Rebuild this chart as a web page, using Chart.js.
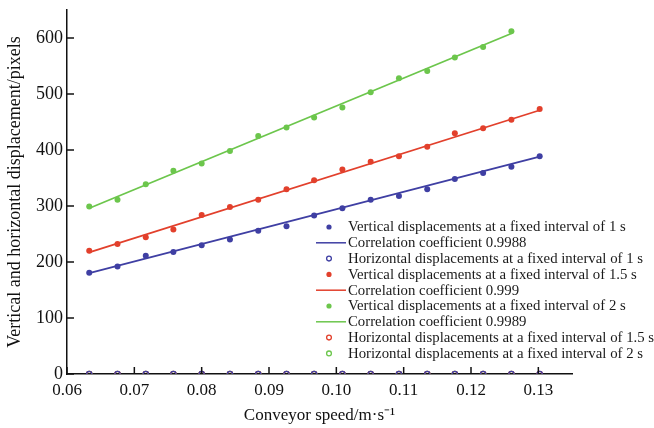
<!DOCTYPE html>
<html><head><meta charset="utf-8">
<script src="https://cdn.jsdelivr.net/npm/chart.js@4/dist/chart.umd.min.js"></script>
<style>html,body{margin:0;padding:0;background:#fff;}#wrap{position:relative;width:654px;height:428px;}</style>
</head><body><div id="wrap"><canvas id="c" width="654" height="428"></canvas></div>
<script>
// ---- data ----
const speeds  = [0.0633,0.0675,0.0717,0.0758,0.0800,0.0842,0.0884,0.0926,0.0967,0.1009,0.1051,0.1093,0.1135,0.1176,0.1218,0.1260,0.1302];
const speeds2 = [0.0633,0.0675,0.0717,0.0758,0.0800,0.0842,0.0884,0.0926,0.0967,0.1009,0.1051,0.1093,0.1135,0.1176,0.1218,0.1260];
const vert1  = [181,192,211,218,230,240,256,264,283,296,311,318,330,348,359,370,389];
const vert15 = [220,232,244,258,284,298,311,330,346,365,379,389,406,430,439,454,473];
const vert2  = [299,311,339,363,376,398,425,440,458,476,503,528,541,565,584,612];
const horiz1  = [0,0,0,0,0,0,0,0,0,0,0,0,0,0,0,0,0];
const horiz15 = [0,0,0,0,0,0,0,0,0,0,0,0,0,0,0,0,0];
const horiz2  = [0,0,0,0,0,0,0,0,0,0,0,0,0,0,0,0];
const fitX1 = [0.0633,0.1302], fit1  = [180,388];
const fitX15 = [0.0633,0.1302], fit15 = [217,471];
const fitX2 = [0.0633,0.1260], fit2  = [296,608];
const xTickVals = [0.06,0.07,0.08,0.09,0.10,0.11,0.12,0.13,0.135];
const yTickVals = [0,100,200,300,400,500,600,650];
const labels = [
  'Vertical displacements at a fixed interval of 1 s',
  'Correlation coefficient 0.9988',
  'Horizontal displacements at a fixed interval of 1 s',
  'Vertical displacements at a fixed interval of 1.5 s',
  'Correlation coefficient 0.999',
  'Vertical displacements at a fixed interval of 2 s',
  'Correlation coefficient 0.9989',
  'Horizontal displacements at a fixed interval of 1.5 s',
  'Horizontal displacements at a fixed interval of 2 s'
];
const xTitle = 'Conveyor speed/m\u00B7s\u207B\u00B9';
const yTitle = 'Vertical and horizontal displacement/pixels';

const BLUE = '#3f3fa3', RED = '#e2402c', GREEN = '#6cc64c';
const pts = (xs, ys) => ys.map((v, i) => ({x: xs[i], y: v}));
const FONT = "'Liberation Serif', 'Times New Roman', serif";

function dot(label, xs, ys, c){ return {label, data: pts(xs, ys), kind:'dot', showLine:false, pointRadius:3, pointHoverRadius:3, backgroundColor:c, borderColor:c, pointBorderWidth:0}; }
function ring(label, xs, ys, c){ return {label, data: pts(xs, ys), kind:'ring', showLine:false, pointRadius:2.6, backgroundColor:'rgba(0,0,0,0)', borderColor:c, pointBorderWidth:1.3}; }
function line(label, xs, ys, c){ return {label, data: pts(xs, ys), kind:'line', showLine:true, pointRadius:0, borderColor:c, backgroundColor:c, borderWidth:1.8, fill:false}; }

const datasets = [
  dot(labels[0], speeds, vert1, BLUE),
  line(labels[1], fitX1, fit1, BLUE),
  ring(labels[2], speeds, horiz1, BLUE),
  dot(labels[3], speeds, vert15, RED),
  line(labels[4], fitX15, fit15, RED),
  dot(labels[5], speeds2, vert2, GREEN),
  line(labels[6], fitX2, fit2, GREEN),
  ring(labels[7], speeds, horiz15, RED),
  ring(labels[8], speeds2, horiz2, GREEN)
];

const inTicks = {
  id: 'inTicks',
  afterDraw(chart){
    const {ctx, scales:{x, y}, chartArea:a} = chart;
    ctx.save(); ctx.strokeStyle = '#111'; ctx.lineWidth = 1.5;
    x.ticks.forEach(t => { const px = x.getPixelForValue(t.value); ctx.beginPath(); ctx.moveTo(px, a.bottom); ctx.lineTo(px, a.bottom - 7); ctx.stroke(); });
    y.ticks.forEach(t => { const py = y.getPixelForValue(t.value); ctx.beginPath(); ctx.moveTo(a.left, py); ctx.lineTo(a.left + 7, py); ctx.stroke(); });
    ctx.restore();
  }
};

const legendBox = {
  id: 'legendBox',
  afterDraw(chart){
    const ctx = chart.ctx;
    const x0 = 348, y0 = 227, dy = 15.8;
    ctx.save();
    ctx.font = "14.8px " + FONT; ctx.textBaseline = 'middle';
    chart.data.datasets.forEach((ds, i) => {
      const yy = y0 + i * dy;
      if (ds.kind === 'line') {
        ctx.strokeStyle = ds.borderColor; ctx.lineWidth = 1.5;
        ctx.beginPath(); ctx.moveTo(316, yy); ctx.lineTo(346, yy); ctx.stroke();
      } else if (ds.kind === 'dot') {
        ctx.fillStyle = ds.backgroundColor; ctx.beginPath(); ctx.arc(329, yy, 2.6, 0, Math.PI*2); ctx.fill();
      } else {
        ctx.strokeStyle = ds.borderColor; ctx.lineWidth = 1.3; ctx.beginPath(); ctx.arc(329, yy, 2.4, 0, Math.PI*2); ctx.stroke();
      }
      ctx.fillStyle = '#1a1a1a';
      ctx.fillText(ds.label, x0, yy + 0.5);
    });
    ctx.restore();
  }
};

new Chart(document.getElementById('c'), {
  type: 'scatter',
  data: { datasets },
  options: {
    responsive: false, animation: false,
    layout: { autoPadding: false, padding: { left: 0, top: 10, right: 82, bottom: 0 } },
    plugins: { legend: { display: false }, tooltip: { enabled: false } },
    scales: {
      x: {
        type: 'linear', min: 0.06, max: 0.135,
        grid: { display: false, drawTicks: false },
        border: { display: true, color: '#111', width: 1.5 },
        afterBuildTicks: s => { s.ticks = xTickVals.map(v => ({ value: v })); },
        ticks: { padding: 6, color: '#111', font: { family: FONT, size: 17 },
          maxRotation: 0, autoSkip: false,
          callback: v => (Math.abs(v - 0.135) < 1e-6 ? null : v.toFixed(2)) },
        title: { display: true, text: xTitle, color: '#111', font: { family: FONT, size: 17 }, padding: { top: 4, bottom: 2 } },
        afterFit: s => { s.height = 54; s.paddingRight = 0; }
      },
      y: {
        min: 0, max: 650,
        grid: { display: false, drawTicks: false },
        border: { display: true, color: '#111', width: 1.5 },
        afterBuildTicks: s => { s.ticks = yTickVals.map(v => ({ value: v })); },
        ticks: { padding: 4, color: '#111', font: { family: FONT, size: 18 }, autoSkip: false,
          callback: v => (v === 650 ? null : String(v)) },
        title: { display: true, text: yTitle, color: '#111', font: { family: FONT, size: 18 }, padding: { top: 4, bottom: 4 } },
        afterFit: s => { s.width = 67; s.paddingTop = 0; s.paddingBottom = 0; }
      }
    }
  },
  plugins: [inTicks, legendBox]
});
</script></body></html>
